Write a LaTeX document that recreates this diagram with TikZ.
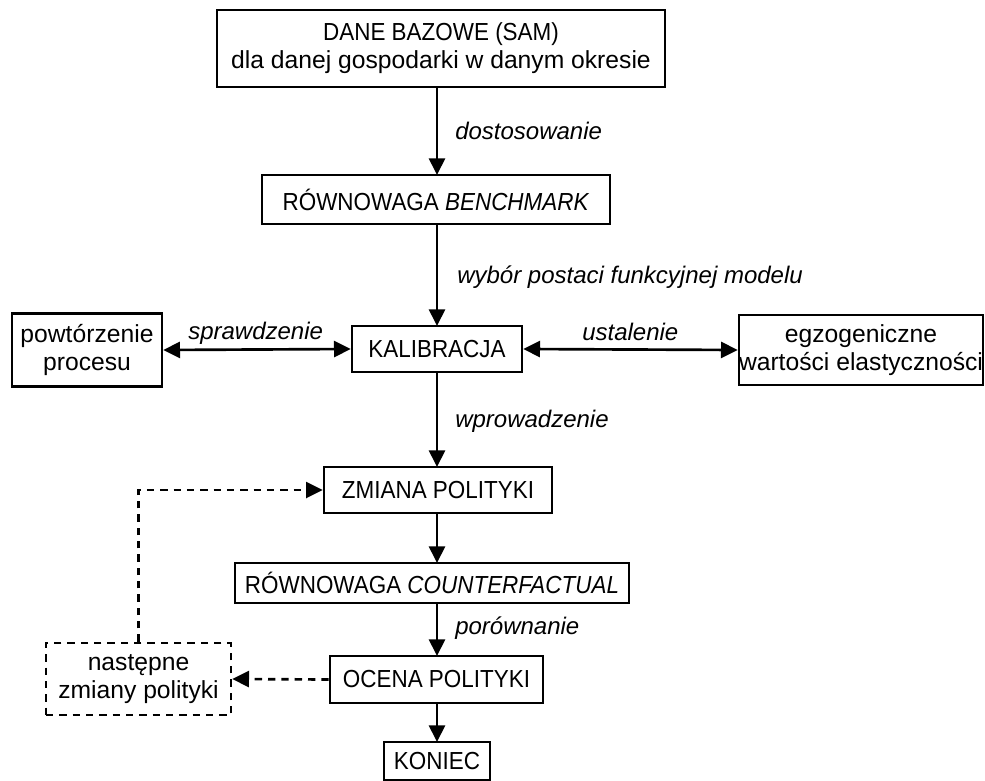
\documentclass[tikz,border=0pt]{standalone}
\usepackage{fontspec}
\setmainfont{Liberation Sans}
\newfontfamily\capsf[FakeStretch=0.91]{Liberation Sans}
\usetikzlibrary{arrows.meta}
\begin{document}
\begin{tikzpicture}[x=0.75pt,y=-0.75pt,
  every node/.style={font=\fontsize{18.5}{21}\selectfont},
  boxs/.style={draw, line width=2pt, inner sep=0pt, align=center},
  dbox/.style={boxs, dash pattern=on 5.5pt off 4.5pt},
  capbox/.style={boxs, font=\fontsize{18.5}{21}\selectfont\capsf},
  lab/.style={anchor=base west, inner sep=0pt, font=\fontsize{18}{21}\selectfont\itshape},
  arr/.style={line width=2pt, -{Triangle[length=12.5pt,width=12pt]}},
  barr/.style={line width=2pt, {Triangle[length=12.5pt,width=12pt]}-{Triangle[length=12.5pt,width=12pt]}},
  darr/.style={arr, dash pattern=on 5.5pt off 4.5pt}
]
\useasboundingbox (0,0) rectangle (985,781);
\node[boxs, minimum width=448*0.75pt, minimum height=77*0.75pt] (b1) at (441,48.5)
  {{\capsf DANE BAZOWE (SAM)}\\dla danej gospodarki w danym okresie};
\node[capbox, minimum width=348*0.75pt, minimum height=49*0.75pt] (b2) at (436,199.5)
  {RÓWNOWAGA \textit{BENCHMARK}};
\node[capbox, minimum width=170*0.75pt, minimum height=46*0.75pt] (b3) at (437,349)
  {KALIBRACJA};
\node[boxs, minimum width=150*0.75pt, minimum height=73*0.75pt] (pl) at (87,350)
  {powtórzenie\\procesu};
\node[boxs, minimum width=243*0.75pt, minimum height=70*0.75pt] (pr) at (861,350)
  {egzogeniczne\\wartości elastyczności};
\node[capbox, minimum width=228*0.75pt, minimum height=46*0.75pt] (b4) at (438,490)
  {ZMIANA POLITYKI};
\node[capbox, minimum width=394*0.75pt, minimum height=40*0.75pt] (b5) at (432,583)
  {RÓWNOWAGA \textit{COUNTERFACTUAL}};
\node[capbox, minimum width=213*0.75pt, minimum height=47*0.75pt] (b6) at (436.5,679.5)
  {OCENA POLITYKI};
\node[capbox, minimum width=106*0.75pt, minimum height=38*0.75pt] (b7) at (437,761)
  {KONIEC};
\node[dbox, minimum width=185*0.75pt, minimum height=72*0.75pt] (nz) at (138.5,679)
  {następne\\zmiany polityki};

\coordinate (c1) at (437,87);
\coordinate (c2) at (437,175);
\draw[arr] (c1) -- (c2);
\coordinate (c3) at (437,224);
\coordinate (c4) at (437,326);
\draw[arr] (c3) -- (c4);
\coordinate (c5) at (437,372);
\coordinate (c6) at (437,467);
\draw[arr] (c5) -- (c6);
\coordinate (c7) at (437,513);
\coordinate (c8) at (437,563);
\draw[arr] (c7) -- (c8);
\coordinate (c9) at (437,603);
\coordinate (c10) at (437,656);
\draw[arr] (c9) -- (c10);
\coordinate (c11) at (437,703);
\coordinate (c12) at (437,742);
\draw[arr] (c11) -- (c12);

\draw[barr] (pl.east) -- (b3.west);
\draw[barr] (b3.east) -- (pr.west);
\draw[darr] (b6.west) -- (nz.east);
\draw[darr] (nz.north) |- (b4.west);

\node[lab] (l1) at (455,140) {dostosowanie};
\node[lab] (l2) at (457,283) {wybór postaci funkcyjnej modelu};
\node[lab] (l3) at (188,339) {sprawdzenie};
\node[lab] (l4) at (582,340) {ustalenie};
\node[lab] (l5) at (455,427) {wprowadzenie};
\node[lab] (l6) at (455,634) {porównanie};
\end{tikzpicture}
\end{document}
